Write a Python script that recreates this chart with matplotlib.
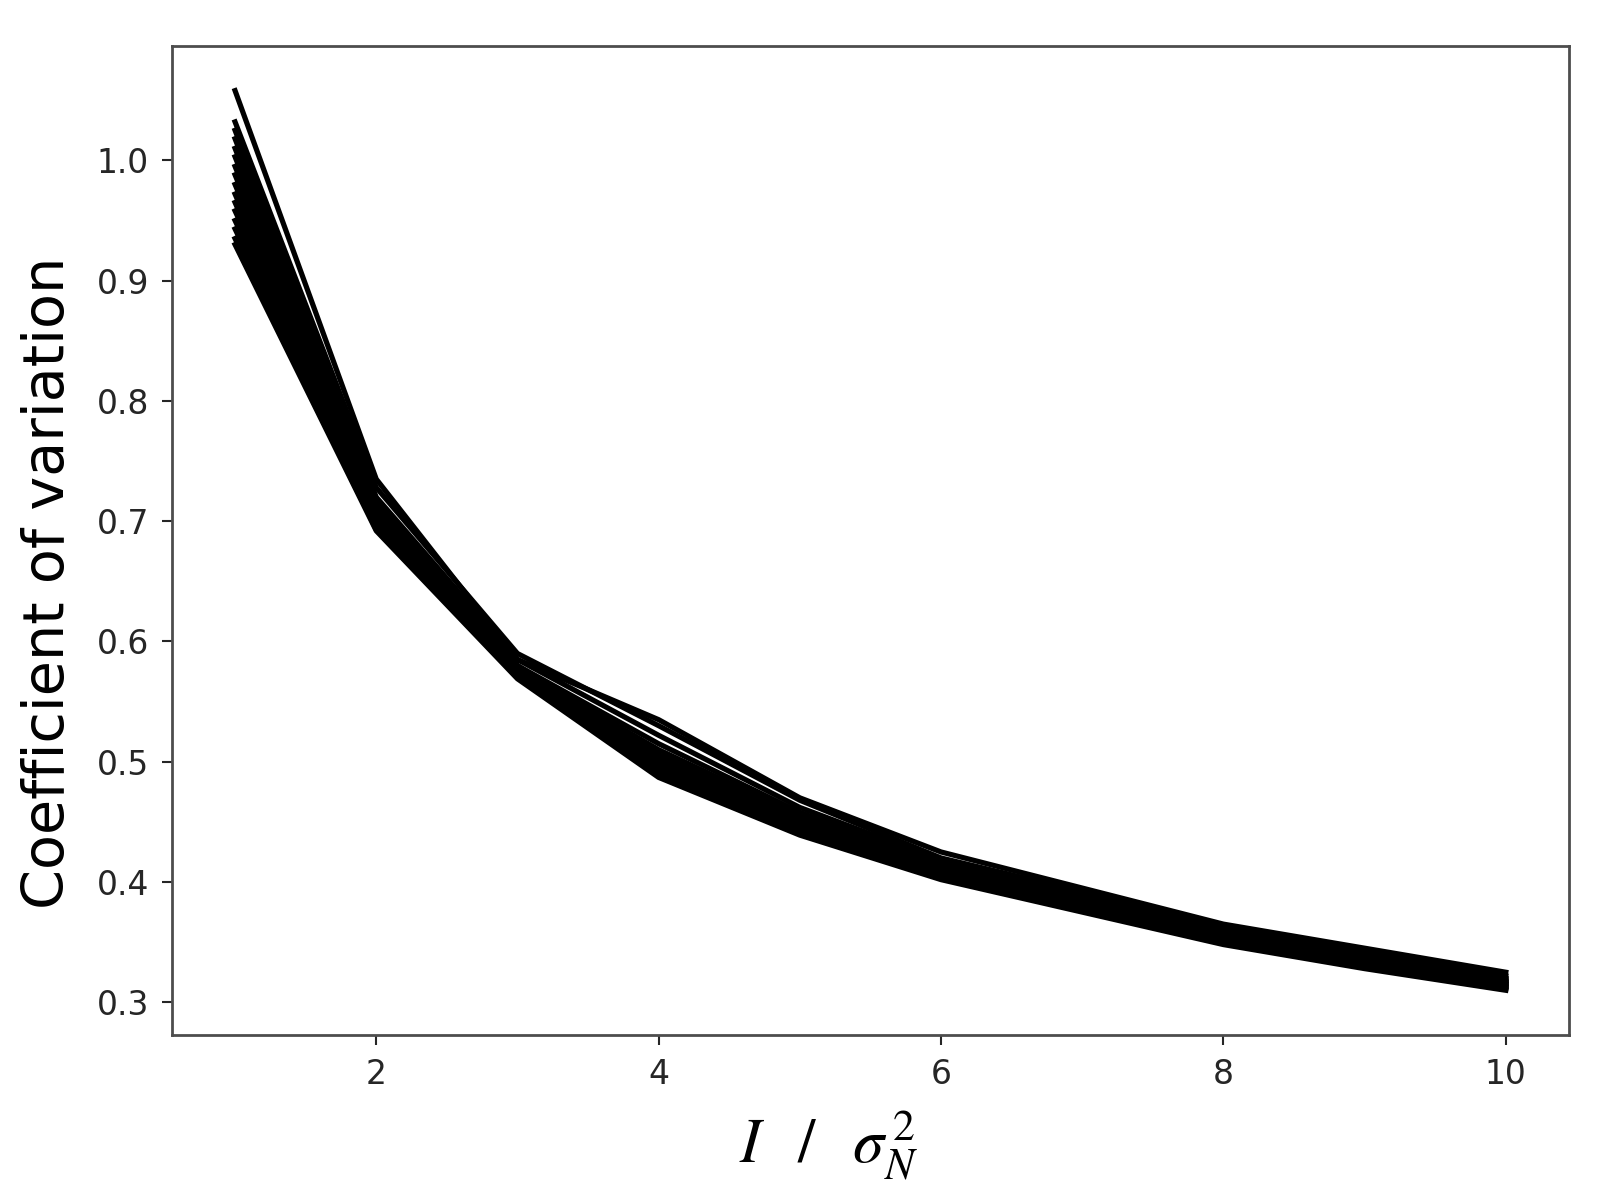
import matplotlib
matplotlib.use('Agg')
import matplotlib.pyplot as plt

plt.rcParams['mathtext.fontset'] = 'stix'

x = [1, 2, 3, 4, 5, 6, 7, 8, 9, 10]

# coefficient of variation for each run
runs = [
    [1.058, 0.735, 0.585, 0.535, 0.470, 0.425, 0.395, 0.365, 0.345, 0.325],
    [1.032, 0.728, 0.590, 0.530, 0.468, 0.420, 0.392, 0.362, 0.342, 0.322],
    [1.025, 0.720, 0.585, 0.522, 0.462, 0.418, 0.390, 0.360, 0.340, 0.320],
    [1.018, 0.715, 0.580, 0.515, 0.458, 0.415, 0.388, 0.358, 0.338, 0.319],
    [1.010, 0.712, 0.578, 0.510, 0.455, 0.414, 0.386, 0.357, 0.337, 0.318],
    [1.003, 0.708, 0.576, 0.506, 0.452, 0.412, 0.384, 0.356, 0.336, 0.317],
    [0.995, 0.705, 0.580, 0.503, 0.450, 0.411, 0.383, 0.355, 0.335, 0.317],
    [0.988, 0.702, 0.574, 0.500, 0.448, 0.410, 0.382, 0.354, 0.334, 0.316],
    [0.980, 0.700, 0.572, 0.498, 0.446, 0.409, 0.381, 0.353, 0.333, 0.315],
    [0.972, 0.698, 0.575, 0.496, 0.445, 0.408, 0.380, 0.352, 0.333, 0.315],
    [0.965, 0.695, 0.572, 0.494, 0.443, 0.407, 0.379, 0.352, 0.332, 0.314],
    [0.958, 0.705, 0.578, 0.492, 0.442, 0.406, 0.378, 0.351, 0.331, 0.313],
    [0.950, 0.700, 0.573, 0.490, 0.441, 0.405, 0.377, 0.350, 0.330, 0.313],
    [0.943, 0.696, 0.571, 0.489, 0.440, 0.404, 0.376, 0.350, 0.330, 0.312],
    [0.935, 0.693, 0.570, 0.488, 0.440, 0.403, 0.376, 0.349, 0.329, 0.311],
    [0.930, 0.692, 0.569, 0.487, 0.439, 0.402, 0.375, 0.348, 0.328, 0.310],
]

fig = plt.figure(figsize=(6.412, 4.804), dpi=250)
ax = fig.add_axes([0.107, 0.138, 0.872, 0.824])

for r in runs:
    ax.plot(x, r, color='black', lw=1.5)

ax.set_xticks([2, 4, 6, 8, 10])
ax.set_yticks([0.3, 0.4, 0.5, 0.6, 0.7, 0.8, 0.9, 1.0])
ax.tick_params(labelsize=9.5, length=3, width=0.6, colors='0.15')
for s in ax.spines.values():
    s.set_color('0.3')
    s.set_linewidth(0.8)

ax.set_ylabel('Coefficient of variation', fontsize=16.5, y=0.457, labelpad=6)
ax.set_xlabel(r'$I\;\;\;/\;\;\;\sigma_N^{\,2}$', fontsize=18, x=0.47, labelpad=5)

fig.savefig('out.png', dpi=250)
